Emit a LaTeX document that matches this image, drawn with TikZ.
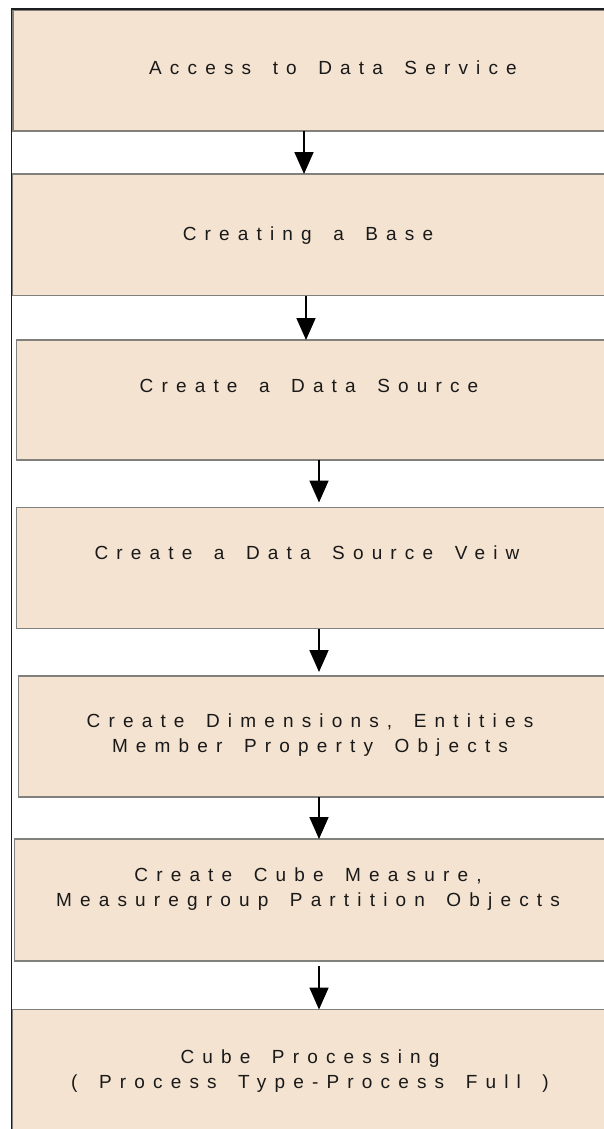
\documentclass[tikz,border=0pt]{standalone}
\usepackage{fontspec}
\usetikzlibrary{arrows.meta}
\newfontfamily\lsfont{Liberation Sans}[LetterSpace=43,WordSpace={1.6,0,0}]
\newcommand\stepfont{\lsfont\fontsize{19}{25}\selectfont}
\definecolor{boxfill}{RGB}{244,227,208}
\definecolor{boxline}{RGB}{130,128,125}
\definecolor{frameline}{RGB}{30,30,30}
\begin{document}
\begin{tikzpicture}[x=1pt,y=-1pt,
  stepbox/.style={draw=boxline,line width=1.2pt,fill=boxfill,rectangle,
    inner sep=0pt,outer sep=0pt,anchor=north west},
  steptext/.style={inner sep=0pt,anchor=base,align=center,
    font=\stepfont,text=black!90},
  flowarrow/.style={line width=1.8pt,-{Triangle[length=22pt,width=19pt]}}]
\useasboundingbox (0,0) rectangle (604,1129);
% boxes
\node[stepbox,minimum width=599pt,minimum height=120.5pt] (b1) at (13,10.5) {};
\node[stepbox,minimum width=600pt,minimum height=121.5pt] (b2) at (12,174) {};
\node[stepbox,minimum width=595.5pt,minimum height=120pt] (b3) at (16.5,340) {};
\node[stepbox,minimum width=595.5pt,minimum height=121pt] (b4) at (16.5,507.5) {};
\node[stepbox,minimum width=593.5pt,minimum height=121pt] (b5) at (18.5,676) {};
\node[stepbox,minimum width=597.5pt,minimum height=122pt] (b6) at (14.5,839) {};
\node[stepbox,minimum width=600pt,minimum height=126pt] (b7) at (12,1009.5) {};
% frame
\coordinate (fo) at (11.5,9);
\coordinate (fr) at (604,9);
\coordinate (fb) at (11.5,1129);
\draw[frameline,line width=1.4pt] (fr) -- (fo) -- (fb);
% texts
\node[steptext] (t1) at (333,75) {Access to Data Service};
\node[steptext] (t2) at (308,240) {Creating a Base};
\node[steptext] (t3) at (309,392) {Create a Data Source};
\node[steptext] (t4) at (307,559) {Create a Data Source Veiw};
\node[steptext] (t5) at (310,752) {Create Dimensions, Entities\\Member Property Objects};
\node[steptext] (t6) at (308,906) {Create Cube Measure,\\Measuregroup Partition Objects};
\node[steptext] (t7) at (310,1088) {Cube Processing\\( Process Type-Process Full )};
% arrows
\coordinate (ax1) at (304,0);
\coordinate (ax2) at (306,0);
\coordinate (ax3) at (319,0);
\draw[flowarrow] (b1.south -| ax1) -- (b2.north -| ax1);
\draw[flowarrow] (b2.south -| ax2) -- (b3.north -| ax2);
\draw[flowarrow,shorten >=5pt] (b3.south -| ax3) -- (b4.north -| ax3);
\draw[flowarrow,shorten >=4pt] (b4.south -| ax3) -- (b5.north -| ax3);
\draw[flowarrow] (b5.south -| ax3) -- (b6.north -| ax3);
\draw[flowarrow,shorten <=5pt] (b6.south -| ax3) -- (b7.north -| ax3);
\end{tikzpicture}
\end{document}
